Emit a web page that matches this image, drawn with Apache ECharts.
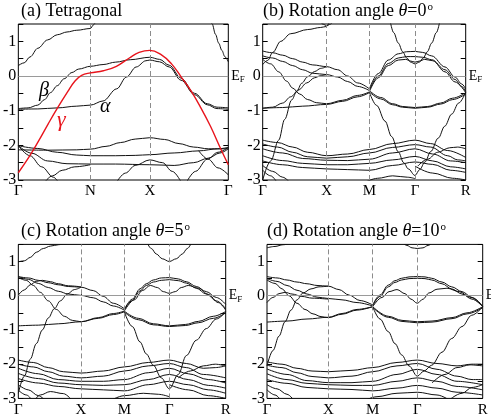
<!DOCTYPE html>
<html>
<head>
<meta charset="utf-8">
<script src="https://cdn.jsdelivr.net/npm/echarts@6/dist/echarts.min.js"></script>
<style>
  html, body { margin: 0; padding: 0; background: #fff; }
  #chart { width: 491px; height: 418px; }
</style>
</head>
<body>
<div id="chart"></div>
<script>
// k-path positions and labels per panel
const kA = [0, 74, 135, 215.6];
const labA = ['Γ', 'N', 'X', 'Γ'];
const kB = [0, 64, 106.7, 152.3, 203];
const labB = ['Γ', 'X', 'M', 'Γ', 'R'];
const kC = [0, 62.7, 106, 151, 207.4];
const labC = ['Γ', 'X', 'M', 'Γ', 'R'];
const kD = [0, 61.3, 105.7, 150.3, 215.7];
const labD = ['Γ', 'X', 'M', 'Γ', 'R'];

const yTicks = [-3, -2, -1, 0, 1];

// (a) tetragonal bands, [k, E]
const bandsA = [
  [[0,0.3],[6,0.38],[12,0.55],[20,0.8],[30,1.04],[40,1.19],[50,1.27],[60,1.32],[74,1.37],[77,1.47],[80,1.6]],
  [[197,1.65],[199,1.5],[202.5,1.2],[205.7,0.95],[209,0.74],[212,0.56],[215.6,0.41]],
  [[0,-0.94],[10,-0.92],[20,-0.84],[27,-0.68],[33,-0.48],[40,-0.28],[47,-0.08],[55,0.1],[62,0.2],[74,0.28],[87,0.33],[100,0.4],[115,0.47],[135,0.54],[145,0.48],[155,0.31],[167,-0.06],[181,-0.5],[194,-0.8],[204,-0.9],[215.6,-0.92]],
  [[0,-0.96],[20,-0.95],[40,-0.92],[60,-0.87],[74,-0.84],[87,-0.72],[101,-0.37],[111,-0.03],[121,0.26],[131,0.44],[135,0.46],[145,0.41],[155,0.26],[167,-0.12],[181,-0.54],[194,-0.83],[204,-0.94],[215.6,-0.96]],
  [[0,-2.13],[30,-2.14],[60,-2.13],[74,-2.11],[90,-2.03],[105,-1.92],[120,-1.82],[135,-1.78],[150,-1.83],[165,-1.95],[180,-2.05],[195,-2.1],[215.6,-2.1]],
  [[0,-2.01],[20,-2.09],[40,-2.2],[60,-2.28],[74,-2.3],[100,-2.3],[120,-2.29],[135,-2.27],[160,-2.22],[185,-2.16],[205,-2.1],[215.6,-2.06]],
  [[0,-2.01],[14,-2.23],[30,-2.45],[50,-2.53],[74,-2.54],[100,-2.54],[135,-2.56],[160,-2.58],[180,-2.5],[195,-2.37],[207,-2.22],[215.6,-2.1]],
  [[26,-3.1],[35,-2.88],[45,-2.72],[58,-2.62],[74,-2.56]],
  [[100,-3.1],[110,-2.8],[120,-2.58],[135,-2.42],[148,-2.5],[158,-2.75],[168,-3.1]],
  [[0,-2.01],[12,-2.3],[24,-2.62],[36,-2.92],[42,-3.1]],
  [[172,-3.1],[182,-2.75],[194,-2.4],[205,-2.2],[215.6,-2.06]],
  [[185,-2.15],[195,-2.4],[205,-2.65],[215.6,-2.85]]
];
const gammaA = [[0,-2.79],[10.7,-2.35],[20.7,-1.88],[30.7,-1.38],[40.7,-0.9],[50.7,-0.45],[58,-0.15],[65,0.02],[74,0.09],[87.3,0.15],[100.7,0.28],[114,0.52],[124,0.68],[135,0.74],[147.3,0.6],[157.3,0.35],[167.3,-0.03],[177.3,-0.43],[187.3,-0.91],[197.3,-1.45],[207.3,-2.07],[215.6,-2.56]];

// (b) rotation 0
const bandsB = [
  [[0,0.33],[5,0.45],[10,0.68],[18,1.0],[28,1.22],[45,1.34],[58,1.4],[64,1.43],[67,1.6]],
  [[57,1.6],[60,1.5],[64,1.45],[68,1.5],[71,1.6]],
  [[0,0.72],[10,0.67],[20,0.6],[30,0.5],[40,0.4],[50,0.32],[64,0.27],[75,0.18],[85,0.0],[95,-0.2],[106.7,-0.37]],
  [[0,0.58],[10,0.52],[20,0.42],[30,0.3],[40,0.18],[50,0.08],[64,0.04],[75,-0.03],[85,-0.16],[95,-0.3],[106.7,-0.42]],
  [[0,0.48],[8,0.35],[16,0.12],[24,-0.15],[30,-0.35],[37,-0.52],[45,-0.68],[54,-0.77],[64,-0.8],[80,-0.7],[95,-0.56],[106.7,-0.46]],
  [[0,-0.93],[20,-0.91],[40,-0.87],[64,-0.82],[80,-0.73],[95,-0.6],[106.7,-0.48]],
  [[0,-3.0],[8,-2.45],[16,-1.85],[22,-1.25],[29,-0.69],[34,-0.45],[39,-0.21],[45,-0.02],[52,0.13],[58,0.22],[64,0.27]],
  [[0,-0.93],[10,-0.9],[20,-0.78],[28,-0.6],[36,-0.4],[44,-0.2],[52,-0.05],[58,0.01],[64,0.04]],
  [[127.3,1.6],[131,1.25],[135.6,0.95],[140,0.7],[144,0.52],[148,0.4],[152.3,0.35],[156.6,0.4],[160.6,0.52],[164.6,0.7],[169,0.95],[173.6,1.25],[177.3,1.6]],
  [[106.7,-0.37],[115.6,0.07],[125.6,0.46],[135.6,0.64],[144,0.7],[152.3,0.71],[160,0.68],[169,0.58],[182.3,0.26],[192.3,-0.03],[199,-0.23],[203,-0.37]],
  [[106.7,-0.42],[115.6,0.0],[125.6,0.36],[135.6,0.52],[144,0.56],[152.3,0.56],[160,0.54],[169,0.47],[182.3,0.18],[192.3,-0.1],[199,-0.3],[203,-0.44]],
  [[106.7,-0.45],[115.6,-0.05],[125.6,0.3],[135.6,0.46],[143,0.48],[148,0.43],[152.3,0.4],[156.6,0.43],[162,0.48],[170,0.44],[182.3,0.12],[192.3,-0.17],[203,-0.48]],
  [[106.7,-0.42],[118,-0.62],[130,-0.8],[140,-0.88],[152.3,-0.91],[165,-0.88],[178,-0.78],[190,-0.64],[203,-0.48]],
  [[106.7,-0.46],[118,-0.66],[130,-0.83],[140,-0.9],[152.3,-0.93],[165,-0.9],[178,-0.81],[190,-0.68],[203,-0.52]],
  [[106.7,-0.47],[114,-0.85],[122.3,-1.3],[129,-1.75],[135.6,-2.19],[141,-2.5],[145.6,-2.68],[152.3,-2.87],[157,-2.7],[162.3,-2.48],[168,-2.18],[175.6,-1.79],[182,-1.45],[189,-1.1],[196,-0.78],[203,-0.47]],
  [[0,-1.85],[15,-1.92],[30,-2.05],[45,-2.2],[64,-2.3],[85,-2.25],[106.7,-2.12],[130,-1.95],[152.3,-1.85],[168,-1.95],[185,-2.15],[203,-2.35]],
  [[0,-1.96],[15,-2.05],[30,-2.2],[45,-2.33],[64,-2.37],[85,-2.33],[106.7,-2.22],[130,-2.06],[152.3,-1.98],[168,-2.05],[185,-2.3],[195,-2.42],[203,-2.45]],
  [[0,-2.1],[20,-2.22],[40,-2.38],[64,-2.43],[85,-2.44],[106.7,-2.4],[130,-2.22],[152.3,-2.1],[170,-2.25],[188,-2.45],[203,-2.5]],
  [[0,-2.3],[20,-2.44],[40,-2.52],[64,-2.56],[85,-2.56],[106.7,-2.52],[130,-2.42],[152.3,-2.32],[170,-2.45],[188,-2.62],[203,-2.68]],
  [[0,-2.45],[20,-2.56],[40,-2.64],[64,-2.68],[85,-2.7],[106.7,-2.72],[130,-2.58],[152.3,-2.48],[170,-2.55],[188,-2.72],[203,-2.78]],
  [[0,-2.58],[10,-2.75],[20,-2.92],[28,-3.1]],
  [[0,-2.72],[8,-2.88],[15,-3.1]],
  [[100,-3.1],[115,-2.95],[130,-2.88],[145,-2.92],[152.3,-2.96]],
  [[155,-2.6],[165,-2.4],[175,-2.2],[187,-2.07],[195,-2.05],[203,-2.1]],
  [[152.3,-2.6],[170,-2.8],[190,-2.95],[203,-3.0]]
];

// (c) rotation 5
const bandsC = [
  [[0,0.99],[6,1.02],[12,1.12],[18,1.27],[25,1.38],[32,1.45],[40,1.49],[50,1.52],[62.7,1.53]],
  [[128,1.6],[133,1.38],[138,1.22],[144,1.08],[151,1.0],[158,1.08],[164,1.22],[169,1.38],[174,1.6]],
  [[0,0.56],[10,0.52],[20,0.45],[30,0.38],[40,0.32],[50,0.27],[62.7,0.25],[75,0.15],[85,-0.02],[95,-0.22],[106,-0.38]],
  [[0,0.56],[10,0.48],[20,0.36],[30,0.24],[40,0.13],[50,0.05],[62.7,0.01],[75,-0.06],[85,-0.18],[95,-0.3],[106,-0.42]],
  [[0,0.53],[8,0.45],[15,0.3],[22,0.1],[30,-0.15],[38,-0.4],[46,-0.6],[54,-0.72],[62.7,-0.76],[80,-0.66],[95,-0.55],[106,-0.47]],
  [[0,0.02],[6,0.17],[12,0.32],[18,0.42],[24,0.45],[32,0.41],[40,0.35],[50,0.29],[62.7,0.26]],
  [[0,-2.85],[6,-2.35],[12,-1.85],[18,-1.4],[24,-1.0],[30,-0.65],[36,-0.38],[42,-0.15],[49,0.05],[56,0.18],[62.7,0.25]],
  [[0,-0.88],[20,-0.86],[40,-0.82],[62.7,-0.76],[80,-0.64],[95,-0.52],[106,-0.45]],
  [[106,-0.4],[114,-0.1],[121.7,0.2],[128,0.35],[135,0.46],[143,0.52],[151,0.53],[160,0.49],[168,0.41],[178,0.27],[188,0.12],[198,-0.05],[207.4,-0.25]],
  [[106,-0.42],[114,-0.14],[121.7,0.14],[128,0.3],[135,0.4],[143,0.45],[151,0.47],[160,0.44],[168,0.37],[178,0.22],[188,0.05],[198,-0.15],[207.4,-0.38]],
  [[106,-0.45],[116,-0.12],[124,0.15],[132,0.3],[139,0.24],[145,0.12],[151,0.07],[157,0.12],[163,0.24],[170,0.3],[180,0.22],[190,0.04],[200,-0.2],[207.4,-0.42]],
  [[106,-0.45],[120,-0.66],[135,-0.82],[151,-0.88],[167,-0.84],[180,-0.75],[195,-0.6],[207.4,-0.46]],
  [[106,-0.48],[120,-0.7],[135,-0.85],[151,-0.9],[167,-0.87],[180,-0.79],[195,-0.66],[207.4,-0.5]],
  [[106,-0.47],[114,-0.9],[121.7,-1.35],[128,-1.7],[135,-2.03],[143,-2.4],[151,-2.72],[160,-2.3],[168,-1.75],[178,-1.3],[188,-0.96],[198,-0.68],[207.4,-0.47]],
  [[0,-1.88],[15,-1.95],[30,-2.1],[45,-2.22],[62.7,-2.26],[85,-2.2],[106,-2.08],[130,-1.95],[151,-1.88],[168,-1.98],[185,-2.12],[197,-2.1],[207.4,-2.05]],
  [[0,-2.0],[15,-2.08],[30,-2.22],[45,-2.35],[62.7,-2.4],[85,-2.35],[106,-2.2],[130,-2.05],[151,-1.98],[168,-2.1],[185,-2.3],[207.4,-2.4]],
  [[0,-2.12],[20,-2.28],[40,-2.45],[62.7,-2.5],[85,-2.5],[106,-2.45],[130,-2.25],[151,-2.12],[170,-2.28],[190,-2.45],[207.4,-2.55]],
  [[0,-2.27],[20,-2.42],[40,-2.55],[62.7,-2.6],[85,-2.62],[106,-2.6],[130,-2.45],[151,-2.3],[170,-2.45],[190,-2.62],[207.4,-2.7]],
  [[0,-2.42],[20,-2.55],[40,-2.65],[62.7,-2.72],[85,-2.75],[106,-2.78],[130,-2.6],[151,-2.5],[170,-2.6],[190,-2.75],[207.4,-2.85]],
  [[0,-2.6],[10,-2.75],[20,-2.92],[28,-3.1]],
  [[0,-2.76],[8,-2.9],[15,-3.1]],
  [[15,-3.1],[22,-2.9],[32,-2.8],[45,-2.86],[55,-3.1]],
  [[90,-3.1],[106,-2.92],[125,-2.85],[140,-2.88],[151,-2.95]],
  [[160,-2.4],[172,-2.2],[185,-2.05],[197,-2.0],[207.4,-2.05]],
  [[151,-2.6],[170,-2.75],[190,-2.92],[207.4,-3.0]]
];

// (d) rotation 10
const bandsD = [
  [[0,1.4],[8,1.44],[16,1.49],[24,1.53]],
  [[134,1.6],[140,1.47],[145,1.4],[150.3,1.38],[156,1.4],[161,1.47],[167,1.6]],
  [[0,0.56],[10,0.52],[20,0.46],[30,0.4],[40,0.35],[50,0.3],[61.3,0.28],[72,0.18],[82,0.02],[93,-0.14],[105.7,-0.27]],
  [[0,0.5],[10,0.42],[20,0.3],[30,0.16],[40,0.05],[50,-0.04],[61.3,-0.08],[75,-0.12],[90,-0.2],[105.7,-0.3]],
  [[0,0.46],[8,0.36],[15,0.2],[22,0.0],[30,-0.22],[38,-0.4],[46,-0.53],[54,-0.61],[61.3,-0.64],[75,-0.54],[90,-0.42],[105.7,-0.32]],
  [[0,-0.2],[6,-0.05],[12,0.06],[18,0.1],[25,0.05],[35,-0.02],[45,-0.07],[61.3,-0.1]],
  [[0,-2.05],[6,-1.6],[12,-1.18],[18,-0.76],[24,-0.42],[30,-0.12],[36,0.08],[44,0.2],[52,0.26],[61.3,0.28]],
  [[0,-0.77],[20,-0.74],[40,-0.68],[61.3,-0.63],[75,-0.52],[90,-0.4],[105.7,-0.32]],
  [[105.7,-0.27],[113,0.02],[121.3,0.31],[128,0.44],[134.7,0.51],[142,0.55],[150.3,0.56],[158,0.55],[164.7,0.51],[175,0.4],[184.7,0.26],[195,0.12],[205,-0.05],[215.7,-0.3]],
  [[105.7,-0.3],[113,-0.02],[121.3,0.26],[128,0.39],[134.7,0.46],[142,0.5],[150.3,0.51],[158,0.5],[164.7,0.46],[175,0.35],[184.7,0.2],[195,0.05],[205,-0.1],[215.7,-0.32]],
  [[105.7,-0.32],[115,-0.05],[122,0.12],[130,0.18],[138,0.06],[144,-0.1],[150.3,-0.22],[156,-0.1],[162,0.08],[170,0.19],[180,0.22],[192,0.12],[204,-0.05],[215.7,-0.32]],
  [[105.7,-0.32],[121.3,-0.6],[135,-0.72],[150.3,-0.76],[165,-0.74],[185,-0.64],[200,-0.5],[215.7,-0.32]],
  [[105.7,-0.34],[121.3,-0.63],[135,-0.75],[150.3,-0.79],[165,-0.77],[185,-0.67],[200,-0.53],[215.7,-0.35]],
  [[105.7,-0.32],[113,-0.68],[121.3,-1.05],[128,-1.4],[134.7,-1.73],[142,-2.05],[150.3,-2.35],[157,-2.2],[164.7,-2.03],[175,-1.65],[184.7,-1.25],[195,-0.9],[204.7,-0.57],[215.7,-0.32]],
  [[0,-1.93],[15,-2.0],[30,-2.12],[45,-2.2],[61.3,-2.22],[85,-2.18],[105.7,-2.1],[130,-1.95],[150.3,-1.88],[170,-1.98],[190,-2.05],[205,-2.0],[215.7,-2.0]],
  [[0,-2.03],[15,-2.1],[30,-2.25],[45,-2.36],[61.3,-2.4],[85,-2.35],[105.7,-2.22],[130,-2.05],[150.3,-1.98],[170,-2.15],[190,-2.35],[205,-2.45],[215.7,-2.45]],
  [[0,-2.14],[20,-2.3],[40,-2.48],[61.3,-2.54],[85,-2.54],[105.7,-2.5],[130,-2.3],[150.3,-2.15],[170,-2.3],[190,-2.5],[215.7,-2.6]],
  [[0,-2.28],[20,-2.45],[40,-2.56],[61.3,-2.6],[85,-2.62],[105.7,-2.62],[130,-2.5],[150.3,-2.4],[170,-2.5],[190,-2.65],[215.7,-2.75]],
  [[0,-2.45],[20,-2.56],[40,-2.68],[61.3,-2.72],[85,-2.74],[105.7,-2.78],[130,-2.7],[150.3,-2.62],[170,-2.7],[190,-2.82],[215.7,-2.9]],
  [[0,-2.6],[10,-2.72],[20,-2.88],[28,-3.1]],
  [[0,-2.75],[8,-2.9],[15,-3.1]],
  [[95,-3.1],[110,-2.95],[130,-2.85],[150.3,-2.82],[170,-2.9],[185,-3.1]],
  [[165,-2.55],[178,-2.3],[190,-2.1],[203,-2.02],[215.7,-2.05]],
  [[180,-3.1],[195,-2.85],[205,-2.68],[215.7,-2.6]]
];

const FONT = '"Liberation Serif", "Times New Roman", "DejaVu Serif", serif';
const chart = echarts.init(document.getElementById('chart'));

const panels = [
  { k: kA, lab: labA, bands: bandsA, grid: { left: 12.7, top: 24, width: 215.6, height: 156 } },
  { k: kB, lab: labB, bands: bandsB, grid: { left: 262.7, top: 24, width: 203, height: 156 } },
  { k: kC, lab: labC, bands: bandsC, grid: { left: 18.3, top: 244.4, width: 207.4, height: 154 } },
  { k: kD, lab: labD, bands: bandsD, grid: { left: 267, top: 244.4, width: 215.7, height: 154 } }
];

const grids = [], xAxes = [], yAxes = [], series = [];

panels.forEach((p, i) => {
  grids.push(Object.assign({ show: true, borderColor: '#000', borderWidth: 1, backgroundColor: 'transparent' }, p.grid));
  const kMax = p.k[p.k.length - 1];
  xAxes.push({
    type: 'value', gridIndex: i, min: 0, max: kMax,
    axisLine: { show: false },
    splitLine: { show: false },
    axisTick: { show: true, inside: true, length: 4, customValues: p.k.slice(1, -1), lineStyle: { color: '#000' } },
    axisLabel: {
      customValues: p.k, margin: 4, color: '#000', fontFamily: FONT, fontSize: 15,
      formatter: v => p.lab[p.k.indexOf(v)] || ''
    }
  });
  const yBase = {
    type: 'value', gridIndex: i, min: -3, max: 1.5, interval: 0.5,
    axisLine: { show: false }, splitLine: { show: false },
    axisTick: { show: true, inside: true, length: 5, lineStyle: { color: '#000' } }
  };
  yAxes.push(Object.assign({}, yBase, {
    position: 'left',
    axisLabel: {
      show: true, margin: 2, color: '#000', fontFamily: FONT, fontSize: 16,
      formatter: v => (yTicks.indexOf(v) >= 0 ? String(v) : '')
    }
  }));
  yAxes.push(Object.assign({}, yBase, { position: 'right', axisLabel: { show: false } }));

  const yIdx = i * 2;
  // reference lines: dashed verticals at interior k-points, E_F at 0
  series.push({
    type: 'line', xAxisIndex: i, yAxisIndex: yIdx, data: [], silent: true,
    markLine: {
      silent: true, symbol: 'none', animation: false,
      data: p.k.slice(1, -1).map(v => ({
        xAxis: v, label: { show: false },
        lineStyle: { color: '#8c8c8c', type: [5, 3], width: 1 }
      })).concat([{
        yAxis: 0,
        lineStyle: { color: '#9a9a9a', type: 'solid', width: 1 },
        label: {
          show: true, position: 'end', distance: 3,
          formatter: '{e|E}{f|F}',
          rich: {
            e: { fontFamily: FONT, fontSize: 14, color: '#000' },
            f: { fontFamily: FONT, fontSize: 9, color: '#000', verticalAlign: 'bottom', padding: [7, 0, 0, 0] }
          }
        }
      }])
    }
  });

  p.bands.forEach(b => series.push({
    type: 'line', xAxisIndex: i, yAxisIndex: yIdx, data: b,
    showSymbol: false, smooth: 0.35, smoothMonotone: 'x', clip: true, silent: true,
    lineStyle: { color: '#111', width: 1 }
  }));
});

// gamma band (red) in panel (a)
series.push({
  type: 'line', xAxisIndex: 0, yAxisIndex: 0, data: gammaA,
  showSymbol: false, smooth: 0.45, clip: true, silent: true,
  lineStyle: { color: '#e8141c', width: 1.4 }, z: 5
});

const tRich = {
  n: { fontFamily: FONT, fontSize: 18, color: '#000' },
  i: { fontFamily: FONT, fontSize: 18, fontStyle: 'italic', color: '#000' },
  s: { fontFamily: FONT, fontSize: 11, color: '#000', verticalAlign: 'top', padding: [0, 0, 0, 1] }
};
const mkTitle = (left, top, text) => ({
  left, top, text, padding: 0,
  textStyle: { fontFamily: FONT, fontSize: 18, fontWeight: 'normal', color: '#000', rich: tRich }
});

chart.setOption({
  animation: false,
  backgroundColor: '#fff',
  title: [
    mkTitle(21, 2, '{n|(a) Tetragonal}'),
    mkTitle(263, 2, '{n|(b) Rotation angle }{i|θ}{n|=0}{s|o}'),
    mkTitle(21, 222, '{n|(c) Rotation angle }{i|θ}{n|=5}{s|o}'),
    mkTitle(267, 222, '{n|(d) Rotation angle }{i|θ}{n|=10}{s|o}')
  ],
  grid: grids,
  xAxis: xAxes,
  yAxis: yAxes,
  series: series,
  graphic: [
    { type: 'text', left: 39, top: 81, style: { text: 'β', font: 'italic 20px "Liberation Serif", serif', fill: '#000' } },
    { type: 'text', left: 100, top: 97, style: { text: 'α', font: 'italic 20px "Liberation Serif", serif', fill: '#000' } },
    { type: 'text', left: 57, top: 109, style: { text: 'γ', font: 'italic 22px "Liberation Serif", serif', fill: '#e8141c' } }
  ]
});
</script>
</body>
</html>
